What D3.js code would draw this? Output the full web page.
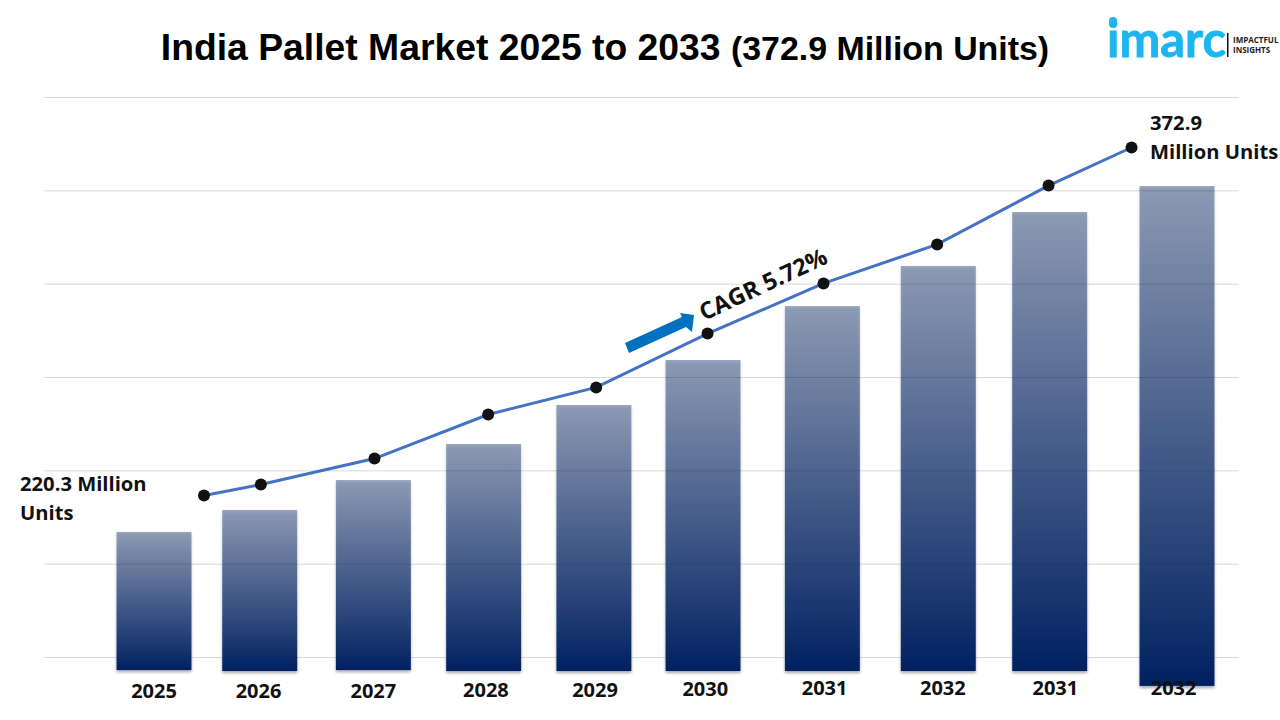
<!DOCTYPE html>
<html>
<head>
<meta charset="utf-8">
<script src="https://cdn.jsdelivr.net/npm/d3@7"></script>
<style>
html, body { margin: 0; padding: 0; background: #fff; }
svg { display: block; }
text { font-family: "Open Sans", "Noto Sans", sans-serif; }
</style>
</head>
<body>
<script>

// data. the source repeats 2031/2032 on the axis, kept as is
var years = ["2025", "2026", "2027", "2028", "2029", "2030", "2031", "2032", "2031", "2032"]
var barTop = [67, 78.8, 94.8, 114.1, 135, 159.1, 188, 209.5, 238.4, 252.3]
var barBottom = [-7, -7.5, -7, -7.5, -7.5, -7.5, -7.5, -7.5, -7.5, -15.5]
var barSlot = [0, 0.93, 1.93, 2.9, 3.87, 4.83, 5.88, 6.9, 7.88, 9]
var labelSlot = [0, 0.92, 1.93, 2.92, 3.88, 4.85, 5.9, 6.94, 7.93, 8.97]
var lineValues = [220.3, 225.1, 236.5, 255.8, 267.7, 291.3, 313.3, 330.4, 356.2, 372.9]
var lineSlot = [0.44, 0.94, 1.94, 2.94, 3.89, 4.87, 5.89, 6.89, 7.87, 8.6]
var gridTicks = [0, 50, 100, 150, 200, 250, 300]

var svg = d3.select("body").append("svg").attr("width", 1280).attr("height", 720)

var xSlot = d3.scaleLinear().domain([0, 9]).range([154, 1177])
var yBar = d3.scaleLinear().domain([0, 300]).range([657, 97])
var yLine = d3.scaleLinear().domain([220.3, 372.9]).range([495.5, 147.5])
var barWidth = 75

var defs = svg.append("defs")
var grad = defs.append("linearGradient").attr("id", "barFill")
  .attr("x1", 0).attr("y1", 0).attr("x2", 0).attr("y2", 1)
grad.append("stop").attr("offset", "0%").attr("stop-color", "#002060").attr("stop-opacity", 0.4)
grad.append("stop").attr("offset", "100%").attr("stop-color", "#002060").attr("stop-opacity", 1)

// shadow only outside the bar, the fill is see through at the top
var shadow = defs.append("filter").attr("id", "barShadow")
  .attr("color-interpolation-filters", "sRGB")
  .attr("x", "-10%").attr("y", "-5%").attr("width", "120%").attr("height", "110%")
shadow.append("feGaussianBlur").attr("in", "SourceAlpha").attr("stdDeviation", 1.5).attr("result", "blur")
shadow.append("feOffset").attr("in", "blur").attr("dx", 0).attr("dy", 2).attr("result", "moved")
shadow.append("feFlood").attr("flood-color", "#000").attr("flood-opacity", 0.35).attr("result", "tint")
shadow.append("feComposite").attr("in", "tint").attr("in2", "moved").attr("operator", "in").attr("result", "dark")
shadow.append("feComposite").attr("in", "dark").attr("in2", "SourceAlpha").attr("operator", "out").attr("result", "outside")
var merge = shadow.append("feMerge")
merge.append("feMergeNode").attr("in", "outside")
merge.append("feMergeNode").attr("in", "SourceGraphic")

// gridlines
svg.append("g").selectAll("line").data(gridTicks).enter().append("line")
  .attr("x1", 44).attr("x2", 1239)
  .attr("y1", function(d) { return yBar(d) + 0.5 })
  .attr("y2", function(d) { return yBar(d) + 0.5 })
  .attr("stroke", "#d9d9d9").attr("stroke-width", 1)

// bars
svg.append("g").selectAll("rect").data(years).enter().append("rect")
  .attr("x", function(d, i) { return xSlot(barSlot[i]) - barWidth / 2 })
  .attr("y", function(d, i) { return yBar(barTop[i]) })
  .attr("width", barWidth)
  .attr("height", function(d, i) { return yBar(barBottom[i]) - yBar(barTop[i]) })
  .attr("fill", "url(#barFill)")
  .attr("filter", "url(#barShadow)")

// year labels
svg.append("g").selectAll("text").data(years).enter().append("text")
  .attr("x", function(d, i) { return xSlot(labelSlot[i]) })
  .attr("y", function(d, i) { return i < 3 ? 698 : i < 5 ? 697 : i == 5 ? 696 : 695 })
  .attr("text-anchor", "middle")
  .attr("font-size", 20).attr("font-weight", 700).attr("fill", "#111")
  .text(function(d) { return d })

// line and dots
var line = d3.line()
  .x(function(d, i) { return xSlot(lineSlot[i]) })
  .y(function(d) { return yLine(d) })

svg.append("path").datum(lineValues)
  .attr("d", line)
  .attr("fill", "none").attr("stroke", "#4472c4").attr("stroke-width", 3)

svg.append("g").selectAll("circle").data(lineValues).enter().append("circle")
  .attr("cx", function(d, i) { return xSlot(lineSlot[i]) })
  .attr("cy", function(d) { return yLine(d) })
  .attr("r", 6).attr("fill", "#111")

// title
var title = svg.append("text")
  .attr("x", 605).attr("y", 60).attr("text-anchor", "middle")
  .style("font-family", "'Liberation Sans', Arial, sans-serif")
  .attr("font-weight", 700).attr("fill", "#000")
title.append("tspan").attr("font-size", 37.3).text("India Pallet Market 2025 to 2033 ")
title.append("tspan").attr("font-size", 33.9).text("(372.9 Million Units)")

// end labels
function label(x, y, txt) {
  svg.append("text").attr("x", x).attr("y", y)
    .attr("font-size", 20.2).attr("font-weight", 700).attr("fill", "#111")
    .text(txt)
}
label(20, 491, "220.3 Million")
label(20, 520, "Units")
label(1150, 130, "372.9")
label(1150, 159, "Million Units")

// cagr arrow and text
svg.append("path")
  .attr("d", "M625,343L682,317L680,313L694,315L692,332L686,327L629,353Z")
  .attr("fill", "#0070c0")

svg.append("text")
  .attr("transform", "translate(704,321) rotate(-25)")
  .attr("font-size", 23.5).attr("font-weight", 700).attr("fill", "#111")
  .text("CAGR 5.72%")

// logo
var logo = svg.append("g")
logo.append("text").attr("x", 1107).attr("y", 57)
  .style("font-family", "Lato, sans-serif")
  .attr("font-size", 50).attr("font-weight", 700).attr("fill", "#1cb5f0")
  .attr("stroke", "#1cb5f0").attr("stroke-width", 0.8)
  .attr("textLength", 119).attr("lengthAdjust", "spacingAndGlyphs")
  .text("imarc")
logo.append("circle").attr("cx", 1113).attr("cy", 21).attr("r", 4).attr("fill", "#1cb5f0")
logo.append("rect").attr("x", 1227).attr("y", 33).attr("width", 1.5).attr("height", 24).attr("fill", "#111")
logo.append("text").attr("x", 1233).attr("y", 43)
  .attr("font-size", 8).attr("font-weight", 700).attr("fill", "#222").text("IMPACTFUL")
logo.append("text").attr("x", 1233).attr("y", 53)
  .attr("font-size", 8).attr("font-weight", 700).attr("fill", "#222").text("INSIGHTS")

</script>
</body>
</html>
